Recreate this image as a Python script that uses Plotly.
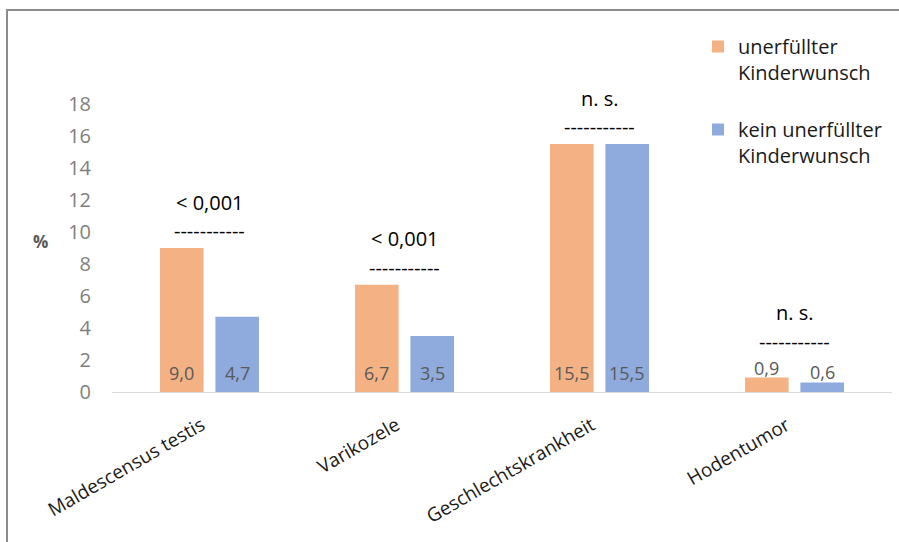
import plotly.graph_objects as go

# ---------------- data ----------------
categories = ["Maldescensus testis", "Varikozele", "Geschlechtskrankheit", "Hodentumor"]
unerfuellt = [9.0, 6.7, 15.5, 0.9]
kein_unerfuellt = [4.7, 3.5, 15.5, 0.6]
series_names = ["unerfüllter<br>Kinderwunsch", "kein unerfüllter<br>Kinderwunsch"]
sig_labels = ["< 0,001", "< 0,001", "n. s.", "n. s."]
y_ticks = [0, 2, 4, 6, 8, 10, 12, 14, 16, 18]

# ---------------- layout constants ----------------
W, H = 899, 542
ML, MR, MT, MB = 112, 7, 104, 150
PW, PH = W - ML - MR, H - MT - MB
YMAX = 18
PX_PER_UNIT = PH / YMAX
BARGAP, GROUPGAP = 0.432, 0.213
FONT = "Open Sans"
C_ORANGE, C_BLUE = "#F4B183", "#8FAADC"


def px_to_paper_x(px):
    return (px - ML) / PW


def px_to_paper_y(py):
    return (H - MB - py) / PH


def fmt(v):
    return f"{v:.1f}".replace(".", ",")


xs = list(range(len(categories)))
offset = (1 - BARGAP) / 4

fig = go.Figure()
for name, vals, col in [(series_names[0], unerfuellt, C_ORANGE),
                        (series_names[1], kein_unerfuellt, C_BLUE)]:
    fig.add_trace(go.Bar(
        x=xs, y=vals, name=name, legendgroup=name,
        marker=dict(color=col, line=dict(width=0)),
        hoverinfo="skip",
    ))

annotations = []
# data labels
for i in xs:
    for sign, vals in [(-1, unerfuellt), (1, kein_unerfuellt)]:
        v = vals[i]
        inside = v * PX_PER_UNIT > 30
        annotations.append(dict(
            x=i + sign * offset, y=0 if inside else v, xref="x", yref="y",
            text=fmt(v), showarrow=False, yanchor="middle",
            yshift=19 if inside else 10,
            font=dict(family=FONT, size=18, color="#595959"),
        ))

# significance labels
for i in xs:
    top = max(unerfuellt[i], kein_unerfuellt[i])
    outside = top * PX_PER_UNIT <= 30
    extra = 19 if outside else 0
    annotations.append(dict(
        x=i, y=top, xref="x", yref="y", text="-----------", showarrow=False,
        yanchor="middle", yshift=18 + extra, height=12, valign="middle",
        font=dict(family=FONT, size=20, color="#000000"),
    ))
    annotations.append(dict(
        x=i, y=top, xref="x", yref="y", text=sig_labels[i], showarrow=False,
        yanchor="middle", yshift=46 + extra,
        font=dict(family=FONT, size=20, color="#000000"),
    ))

# "%" axis label
annotations.append(dict(
    x=px_to_paper_x(40), y=px_to_paper_y(241), xref="paper", yref="paper",
    text="<b>%</b>", showarrow=False, xanchor="center", yanchor="middle",
    font=dict(family=FONT, size=17, color="#595959"),
))

# outer frame (left and top edge)
frame_color = "#8C8C8C"
shapes = [
    dict(type="line", xref="paper", yref="paper",
         x0=px_to_paper_x(7), x1=px_to_paper_x(7),
         y0=px_to_paper_y(10), y1=px_to_paper_y(H + 5),
         line=dict(color=frame_color, width=2)),
    dict(type="line", xref="paper", yref="paper",
         x0=px_to_paper_x(6), x1=px_to_paper_x(W + 5),
         y0=px_to_paper_y(10), y1=px_to_paper_y(10),
         line=dict(color=frame_color, width=2)),
]

fig.update_layout(
    width=W, height=H,
    margin=dict(l=ML, r=MR, t=MT, b=MB),
    paper_bgcolor="white", plot_bgcolor="white",
    barmode="group", bargap=BARGAP, bargroupgap=GROUPGAP,
    font=dict(family=FONT, color="#1a1a1a"),
    annotations=annotations, shapes=shapes,
    showlegend=True,
    legend=dict(
        x=px_to_paper_x(698), y=px_to_paper_y(27),
        xanchor="left", yanchor="top", valign="top",
        tracegroupgap=28, bgcolor="rgba(0,0,0,0)",
        font=dict(family=FONT, size=20, color="#1a1a1a"),
    ),
    xaxis=dict(
        tickmode="array", tickvals=xs, ticktext=categories,
        range=[-0.5, len(categories) - 0.5],
        tickangle=-30, ticks="", showgrid=False, zeroline=False,
        showline=True, linecolor="#D9D9D9", linewidth=1,
        ticklabelstandoff=14, ticklabelshift=-8,
        tickfont=dict(family=FONT, size=19, color="#1a1a1a"),
    ),
    yaxis=dict(
        range=[0, YMAX], tickmode="array", tickvals=y_ticks,
        ticks="", showgrid=False, zeroline=False, showline=False,
        ticklabelstandoff=20,
        tickfont=dict(family=FONT, size=20, color="#7F7F7F"),
    ),
)

fig.write_html("out.html")
